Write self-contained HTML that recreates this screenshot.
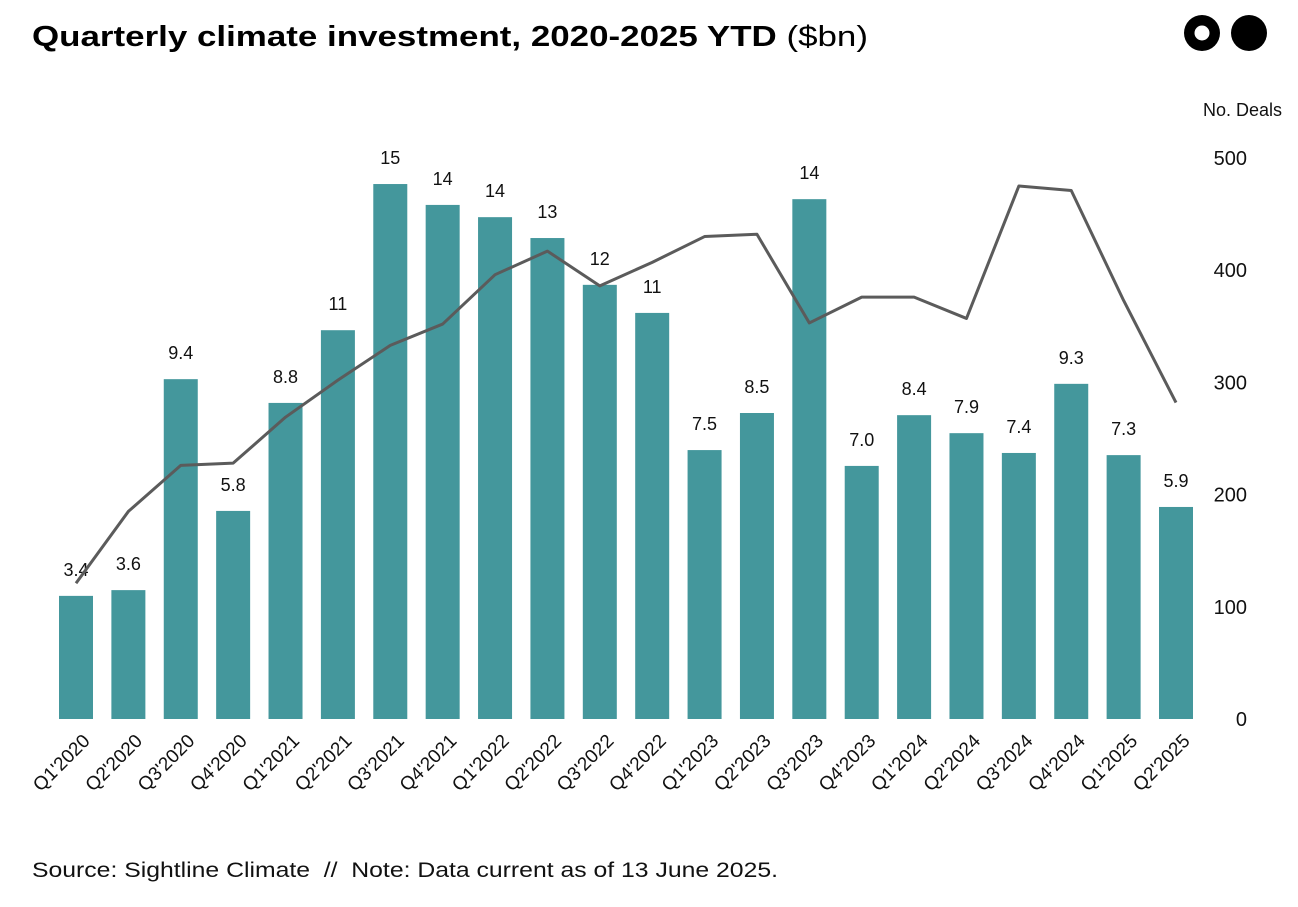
<!DOCTYPE html>
<html><head><meta charset="utf-8"><style>
body{margin:0;background:#fff;font-family:"Liberation Sans",sans-serif;}
svg text{font-family:"Liberation Sans",sans-serif;}
</style></head><body>
<svg id="c" width="1298" height="902" viewBox="0 0 1298 902">
<text x="32" y="46" font-size="29" font-weight="bold" fill="#000" textLength="836" lengthAdjust="spacingAndGlyphs">Quarterly climate investment, 2020-2025 YTD <tspan font-weight="normal">($bn)</tspan></text>
<g>
<circle cx="1202" cy="33" r="18" fill="#000"/><circle cx="1202" cy="33" r="7.5" fill="#fff"/>
<circle cx="1249" cy="33" r="18" fill="#000"/>
</g>
<text x="1282" y="116" font-size="18" text-anchor="end" fill="#111">No. Deals</text>
<text x="32" y="877" font-size="21" fill="#111" xml:space="preserve" textLength="746" lengthAdjust="spacingAndGlyphs">Source: Sightline Climate  //  Note: Data current as of 13 June 2025.</text>
<g id="plot"></g>
</svg>
<script>
const categories=["Q1'2020","Q2'2020","Q3'2020","Q4'2020","Q1'2021","Q2'2021","Q3'2021","Q4'2021","Q1'2022","Q2'2022","Q3'2022","Q4'2022","Q1'2023","Q2'2023","Q3'2023","Q4'2023","Q1'2024","Q2'2024","Q3'2024","Q4'2024","Q1'2025","Q2'2025"];
const investment=[3.42,3.58,9.44,5.78,8.78,10.8,14.86,14.28,13.94,13.36,12.06,11.28,7.47,8.5,14.44,7.03,8.44,7.94,7.39,9.31,7.33,5.89];
const deals=[121,185,226,228,269,302,333,352,396,417,386,407,430,432,353,376,376,357,475,471,373,282];
const dealTicks=[0,100,200,300,400,500];
const NS="http://www.w3.org/2000/svg";
const g=document.getElementById('plot');
const base=719;
const xPos=i=>76+i*(1100/21);
const yBar=v=>base-v*36;
const yDeal=v=>base-v*(561/500);
function mk(t,a,txt){const e=document.createElementNS(NS,t);for(const k in a)e.setAttribute(k,a[k]);if(txt!==undefined)e.textContent=txt;g.appendChild(e);return e;}
investment.forEach((v,i)=>{
 const r=mk('rect',{x:xPos(i)-17,y:yBar(v),width:34,height:base-yBar(v),fill:'#44979c'});
 
 
 const lbl=v>=10?Math.round(v).toString():v.toFixed(1);
 const t=mk('text',{x:xPos(i),y:yBar(v)-20,'font-size':18,'text-anchor':'middle',fill:'#111'},lbl);
 
 
 const x=mk('text',{x:0,y:0,'font-size':19,'text-anchor':'end',fill:'#111',transform:`translate(${xPos(i)+15},${base+23}) rotate(-45)`},categories[i]);
 
 
});
const pts=deals.map((d,i)=>xPos(i)+','+yDeal(d)).join(' ');
const pl=mk('polyline',{points:pts,fill:'none',stroke:'#5b5b5b','stroke-width':3,'stroke-linejoin':'round'});


dealTicks.forEach(t=>{
 const e=mk('text',{x:1247,y:yDeal(t)+7,'font-size':20,'text-anchor':'end',fill:'#111'},t);
 
 
});
</script>
</body></html>
